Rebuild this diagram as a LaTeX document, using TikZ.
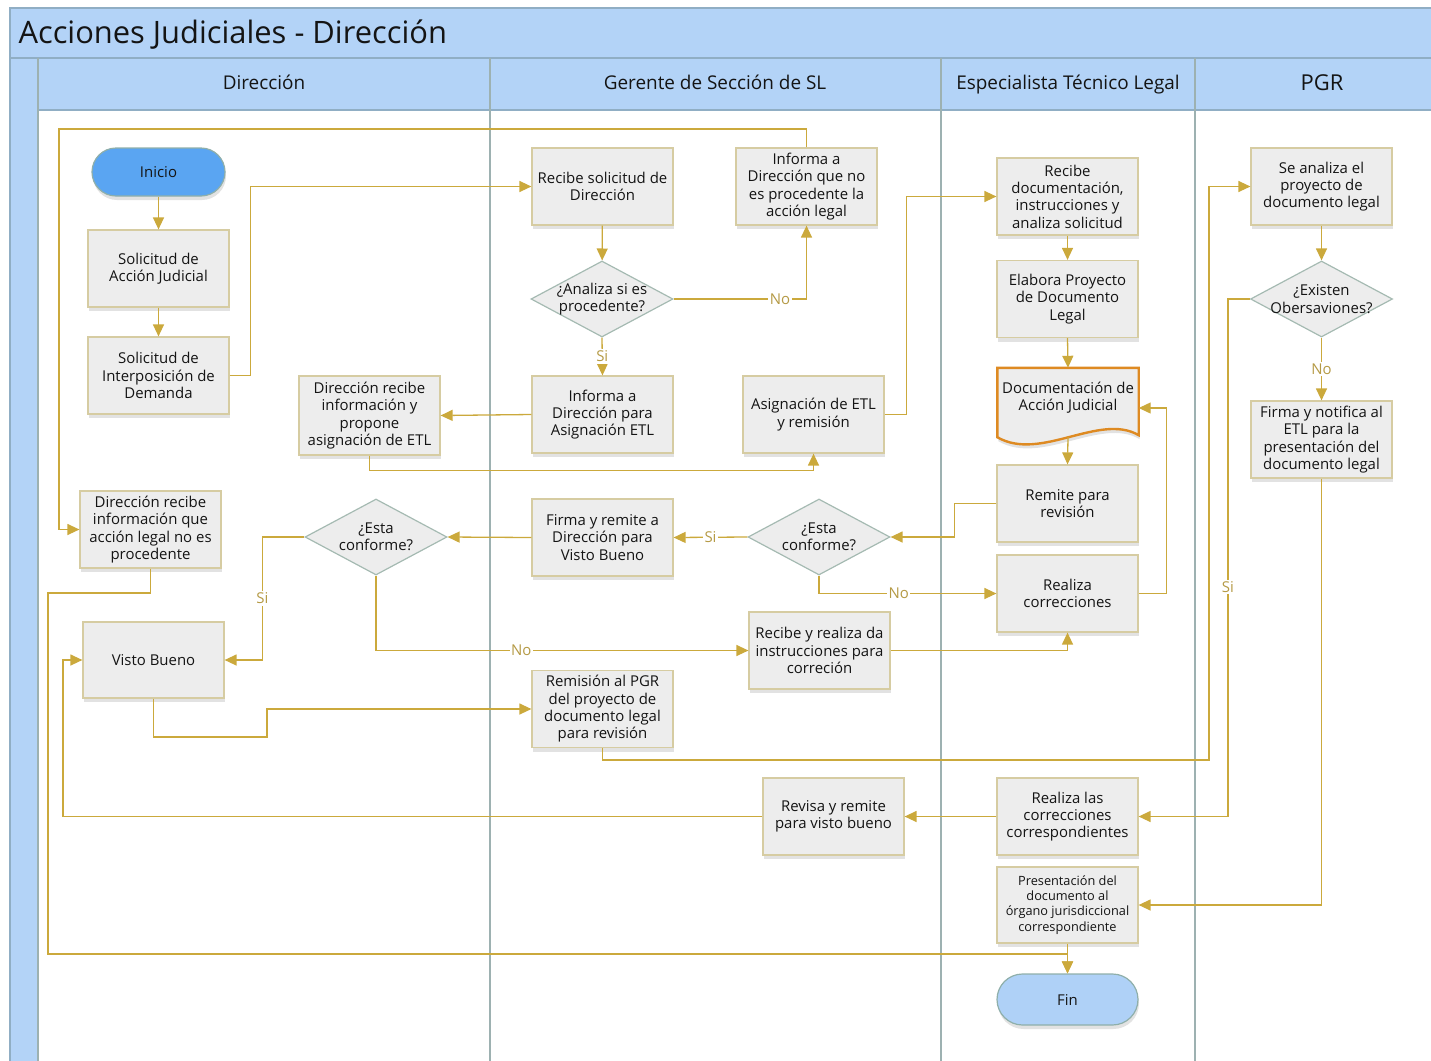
\documentclass[tikz,border=0pt]{standalone}
\usepackage{fontspec}
\setmainfont{Open Sans}
\usetikzlibrary{arrows.meta,shapes.geometric,shadows,backgrounds}
\definecolor{band}{HTML}{B3D3F7}
\definecolor{bandline}{HTML}{90AEC4}
\definecolor{lane}{HTML}{9DB1B1}
\definecolor{boxfill}{HTML}{EDEDED}
\definecolor{boxline}{HTML}{D6CCA2}
\definecolor{dialine}{HTML}{A5BAB2}
\definecolor{termline}{HTML}{8FAFAA}
\definecolor{flow}{HTML}{CBA93C}
\definecolor{flowtext}{HTML}{B59A45}
\definecolor{startfill}{HTML}{5AA5F2}
\definecolor{endfill}{HTML}{AFD1F7}
\definecolor{docline}{HTML}{DE8A22}
\definecolor{ink}{HTML}{141414}
\begin{document}
\begin{tikzpicture}[x=1bp,y=-1bp,
  txt/.style={font=\fontsize{15}{17.4}\selectfont, text=ink, align=center},
  smalltxt/.style={font=\fontsize{12.8}{15.3}\selectfont, text=ink, align=center},
  shade/.style={drop shadow={shadow xshift=1bp, shadow yshift=-4bp, opacity=.16, fill=black!70}},
  box/.style={txt, draw=boxline, fill=boxfill, line width=1.2bp, minimum width=141bp,
    minimum height=77bp, inner sep=0pt, shade},
  dia/.style={diamond, draw=dialine, fill=boxfill, line width=1.2bp, minimum width=142bp,
    minimum height=76bp, inner sep=0pt},
  term/.style={txt, draw=termline, line width=1.2bp, rounded corners=24bp, minimum width=133bp,
    minimum height=48bp, inner sep=0pt, shade},
  flowline/.style={draw=flow, line width=1.3bp, -{Triangle[length=12bp,width=11bp]}},
  tag/.style={font=\fontsize{15}{17}\selectfont, text=flowtext, fill=white, inner sep=1.5bp},
  lanehead/.style={font=\fontsize{19}{23}\selectfont, text=ink, anchor=base},
]
\useasboundingbox (0,0) rectangle (1431,1060);

% swimlane frame
\fill[band] (10,8) rectangle (1440,58);
\fill[band] (10,58) rectangle (38,1070);
\fill[band] (38,58) rectangle (1440,110);
\draw[bandline, line width=1.2bp] (10,1070) -- (10,8) -- (1440,8);
\draw[bandline, line width=1.2bp] (10,58) -- (1440,58) (38,110) -- (1440,110);
\draw[lane, line width=2bp] (38,58) -- (38,1070) (490,58) -- (490,1070)
  (941,58) -- (941,1070) (1195,58) -- (1195,1070);
\node[anchor=base west, font=\fontsize{31}{36}\selectfont, text=ink] (title) at (15,43) {Acciones Judiciales - Dirección};
\node[lanehead] (h1) at (264,89) {Dirección};
\node[lanehead] (h2) at (715,89) {Gerente de Sección de SL};
\node[lanehead] (h3) at (1068,89) {Especialista Técnico Legal};
\node[lanehead, font=\fontsize{22}{26}\selectfont] (h4) at (1322,90) {PGR};

% Dirección
\node[term, fill=startfill] (start) at (158.5,172) {Inicio};
\node[box] (s1) at (158.5,268.5) {Solicitud de\\Acción Judicial};
\node[box] (s2) at (158.5,375.5) {Solicitud de\\Interposición de\\Demanda};
\node[box, minimum height=79bp] (dp) at (369.5,415.5) {Dirección recibe\\información y\\propone\\asignación de ETL};
\node[box] (dn) at (150.5,529.5) {Dirección recibe\\información que\\acción legal no es\\procedente};
\node[dia, label={[txt]center:{¿Esta\\conforme?}}] (d2) at (376,537) {};
\node[box, minimum height=76bp] (vb) at (153.5,660) {Visto Bueno};

% Gerente de Sección
\node[box] (r1) at (602.5,186.5) {Recibe solicitud de\\Dirección};
\node[box] (inf) at (806.5,186.5) {Informa a\\Dirección que no\\es procedente la\\acción legal};
\node[dia, label={[txt]center:{¿Analiza si es\\procedente?}}] (d1) at (602,299) {};
\node[box] (ia) at (602.5,414.5) {Informa a\\Dirección para\\Asignación ETL};
\node[box] (asg) at (813.5,414.5) {Asignación de ETL\\y remisión};
\node[box] (fr) at (602.5,537.5) {Firma y remite a\\Dirección para\\Visto Bueno};
\node[dia, label={[txt]center:{¿Esta\\conforme?}}] (d3) at (819,537) {};
\node[box] (rr) at (819.5,650.5) {Recibe y realiza da\\instrucciones para\\correción};
\node[box] (rem) at (602.5,709) {Remisión al PGR\\del proyecto de\\documento legal\\para revisión};
\node[box] (rv) at (833.5,816.5) {Revisa y remite\\para visto bueno};

% Especialista Técnico Legal
\node[box] (rd) at (1067.5,196.5) {Recibe\\documentación,\\instrucciones y\\analiza solicitud};
\node[box] (el) at (1067.5,299) {Elabora Proyecto\\de Documento\\Legal};
\node[txt, minimum width=141bp, minimum height=69bp, inner sep=0pt,
  label={[txt, yshift=5bp]center:{Documentación de\\Acción Judicial}}] (doc) at (1068,402.5) {};
\begin{scope}[on background layer]
  \draw[draw=docline, fill=boxfill, line width=2.4bp, shade] (doc.north west) -- (doc.north east)
    -- ([yshift=2bp]doc.south east) .. controls +(-39,-23) and +(43,25) .. (doc.south west) -- cycle;
\end{scope}
\node[box] (rp) at (1067.5,503.5) {Remite para\\revisión};
\node[box] (rc) at (1067.5,593.5) {Realiza\\correcciones};
\node[box] (rlc) at (1067.5,816.5) {Realiza las\\correcciones\\correspondientes};
\node[box, smalltxt, minimum height=76bp] (pr) at (1067.5,905) {Presentación del\\documento al\\órgano jurisdiccional\\correspondiente};
\node[term, fill=endfill, minimum width=141bp, minimum height=51bp, rounded corners=25.5bp] (fin) at (1067.5,999.5) {Fin};

% PGR
\node[box] (sa) at (1321.5,186.5) {Se analiza el\\proyecto de\\documento legal};
\node[dia, label={[txt]center:{¿Existen\\Obersaviones?}}] (d4) at (1321.5,299) {};
\node[box] (fn) at (1321.5,439.5) {Firma y notifica al\\ETL para la\\presentación del\\documento legal};

% connectors
\draw[flowline] (start) -- (s1);
\draw[flowline] (s1) -- (s2);
\draw[flowline] (s2.east) -- ++(21,0) |- (r1.west);
\draw[flowline] (r1) -- (d1);
\draw[flowline] (d1.east) -| node[tag, pos=.4] {No} (inf.south);
\draw[flowline] (d1.south) -- node[tag] {Si} (ia.north);
\draw[flowline] (inf.north) |- (59,129) |- (dn.west);
\draw[flowline] (ia.west) -- (dp.east);
\draw[flowline] (dp.south) -- ++(0,15) -| (asg.south);
\draw[flowline] (asg.east) -- ++(22,0) |- (rd.west);
\draw[flowline] (rd) -- (el);
\draw[flowline] (el.south) -- (doc.north);
\draw[flowline] (doc.south) -- (rp.north);
\draw[flowline] (rp.west) -- ++(-42,0) |- (d3.east);
\draw[flowline] (d3.west) -- node[tag] {Si} (fr.east);
\draw[flowline] (d3.south) |- node[tag, pos=.725] {No} (rc.west);
\draw[flowline] (rc.east) -- ++(28,0) |- ([yshift=-5.5bp]doc.east);
\draw[flowline] (fr.west) -- (d2.east);
\draw[flowline] (d2.west) -- ++(-42,0) |- node[tag, pos=.25] {Si} (vb.east);
\draw[flowline] (d2.south) |- node[tag, pos=.695] {No} (rr.west);
\draw[flowline] (rr.east) -| (rc.south);
\draw[flowline] (vb.south) |- (267,737) |- (rem.west);
\draw[flowline] (rem.south) |- (1209,760) |- (sa.west);
\draw[flowline] (sa) -- (d4);
\draw[flowline] (d4.south) -- node[tag] {No} (fn.north);
\draw[flowline] (d4.west) -- ++(-22,0) |- node[tag, pos=.278] {Si} (rlc.east);
\draw[flowline] (rlc.west) -- (rv.east);
\draw[flowline] (rv.west) -| (63,660) -- (vb.west);
\draw[flowline] (fn.south) |- (pr.east);
\draw[flowline] (dn.south) |- (48,593) |- (1067.5,954) -- (fin.north);
\draw[flowline] (pr.south) -- (fin.north);
\end{tikzpicture}
\end{document}
